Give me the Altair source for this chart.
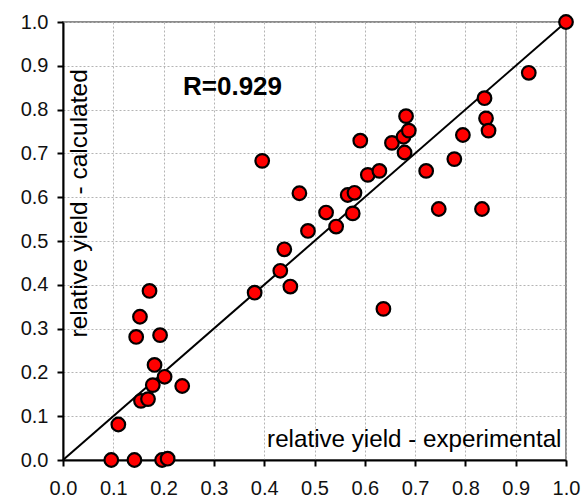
import altair as alt
import pandas as pd

# experimental (x) and calculated (y) relative yields
x_exp = [0.096, 0.142, 0.197, 0.208, 0.110, 0.155, 0.169, 0.1785, 0.237, 0.202,
         0.182, 0.1455, 0.193, 0.153, 0.172,
         0.381, 0.452, 0.432, 0.440, 0.487, 0.543, 0.523, 0.576, 0.470, 0.566,
         0.5795, 0.606, 0.629, 0.637, 0.396, 0.591, 0.654, 0.677, 0.6875, 0.682, 0.679,
         0.722, 0.778, 0.795, 0.747, 0.833, 0.838, 0.841, 0.846, 0.926, 1.000]
y_calc = [0.000, 0.000, 0.000, 0.003, 0.081, 0.135, 0.139, 0.171, 0.169, 0.190,
          0.217, 0.281, 0.285, 0.327, 0.386,
          0.382, 0.396, 0.432, 0.481, 0.523, 0.533, 0.565, 0.563, 0.609, 0.605,
          0.610, 0.651, 0.660, 0.345, 0.683, 0.729, 0.724, 0.738, 0.752, 0.785, 0.702,
          0.660, 0.687, 0.742, 0.573, 0.573, 0.826, 0.780, 0.752, 0.884, 1.000]

line_x = [0.0, 1.0]
line_y = [0.0, 1.0]
ticks = [0.0, 0.1, 0.2, 0.3, 0.4, 0.5, 0.6, 0.7, 0.8, 0.9, 1.0]

pts = pd.DataFrame({"x": x_exp, "y": y_calc})
diag = pd.DataFrame({"x": line_x, "y": line_y})

FONT = "Liberation Sans"

xscale = alt.Scale(domain=[0, 1], nice=False, zero=False)
yscale = alt.Scale(domain=[0, 1], nice=False, zero=False)

xaxis = alt.Axis(
    values=ticks, format=".1f", title="relative yield - experimental",
    titleX=498, titleY=-14, titleAlign="right", titleBaseline="alphabetic",
    titleFont=FONT, titleFontSize=24.2, titleFontWeight="normal", titleColor="#000",
    labelFont=FONT, labelFontSize=20, labelColor="#111", labelPadding=12,
    tickSize=6, tickWidth=2, tickColor="#000", domainColor="#000", domainWidth=2,
    grid=True, gridColor="#b4b4b4", gridDash=[2, 2], gridWidth=1,
    labelFlush=False, labelOverlap=False,
)
yaxis = alt.Axis(
    values=ticks, format=".1f", title="relative yield - calculated",
    titleX=23, titleY=315, titleAngle=270, titleAlign="left", titleBaseline="alphabetic",
    titleFont=FONT, titleFontSize=24.5, titleFontWeight="normal", titleColor="#000",
    labelFont=FONT, labelFontSize=20, labelColor="#111", labelPadding=9,
    tickSize=6, tickWidth=2, tickColor="#000", domainColor="#000", domainWidth=2,
    grid=True, gridColor="#b4b4b4", gridDash=[2, 2], gridWidth=1,
    labelFlush=False, labelOverlap=False,
)

line = alt.Chart(diag).mark_line(color="#000", strokeWidth=2).encode(
    x=alt.X("x:Q", scale=xscale, axis=xaxis),
    y=alt.Y("y:Q", scale=yscale, axis=yaxis),
)

points = alt.Chart(pts).mark_point(
    shape="circle", filled=True, fill="#ff0000", stroke="#000",
    strokeWidth=2.2, size=185, opacity=1, clip=False,
).encode(
    x=alt.X("x:Q", scale=xscale),
    y=alt.Y("y:Q", scale=yscale),
)

rtext = alt.Chart(pd.DataFrame({"t": ["R=0.929"]})).mark_text(
    font=FONT, fontSize=26, fontWeight="bold", align="left", baseline="alphabetic",
    color="#000",
).encode(x=alt.value(120), y=alt.value(73), text="t:N")

chart = alt.layer(line, points, rtext).properties(
    width=503, height=438,
    autosize=alt.AutoSizeParams(type="none"),
    padding={"left": 63, "top": 22, "right": 17, "bottom": 41},
    background="white",
).configure_view(stroke="#8c8c8c", strokeWidth=2)

chart.save("out.html", embed_options={"renderer": "svg", "actions": False})
